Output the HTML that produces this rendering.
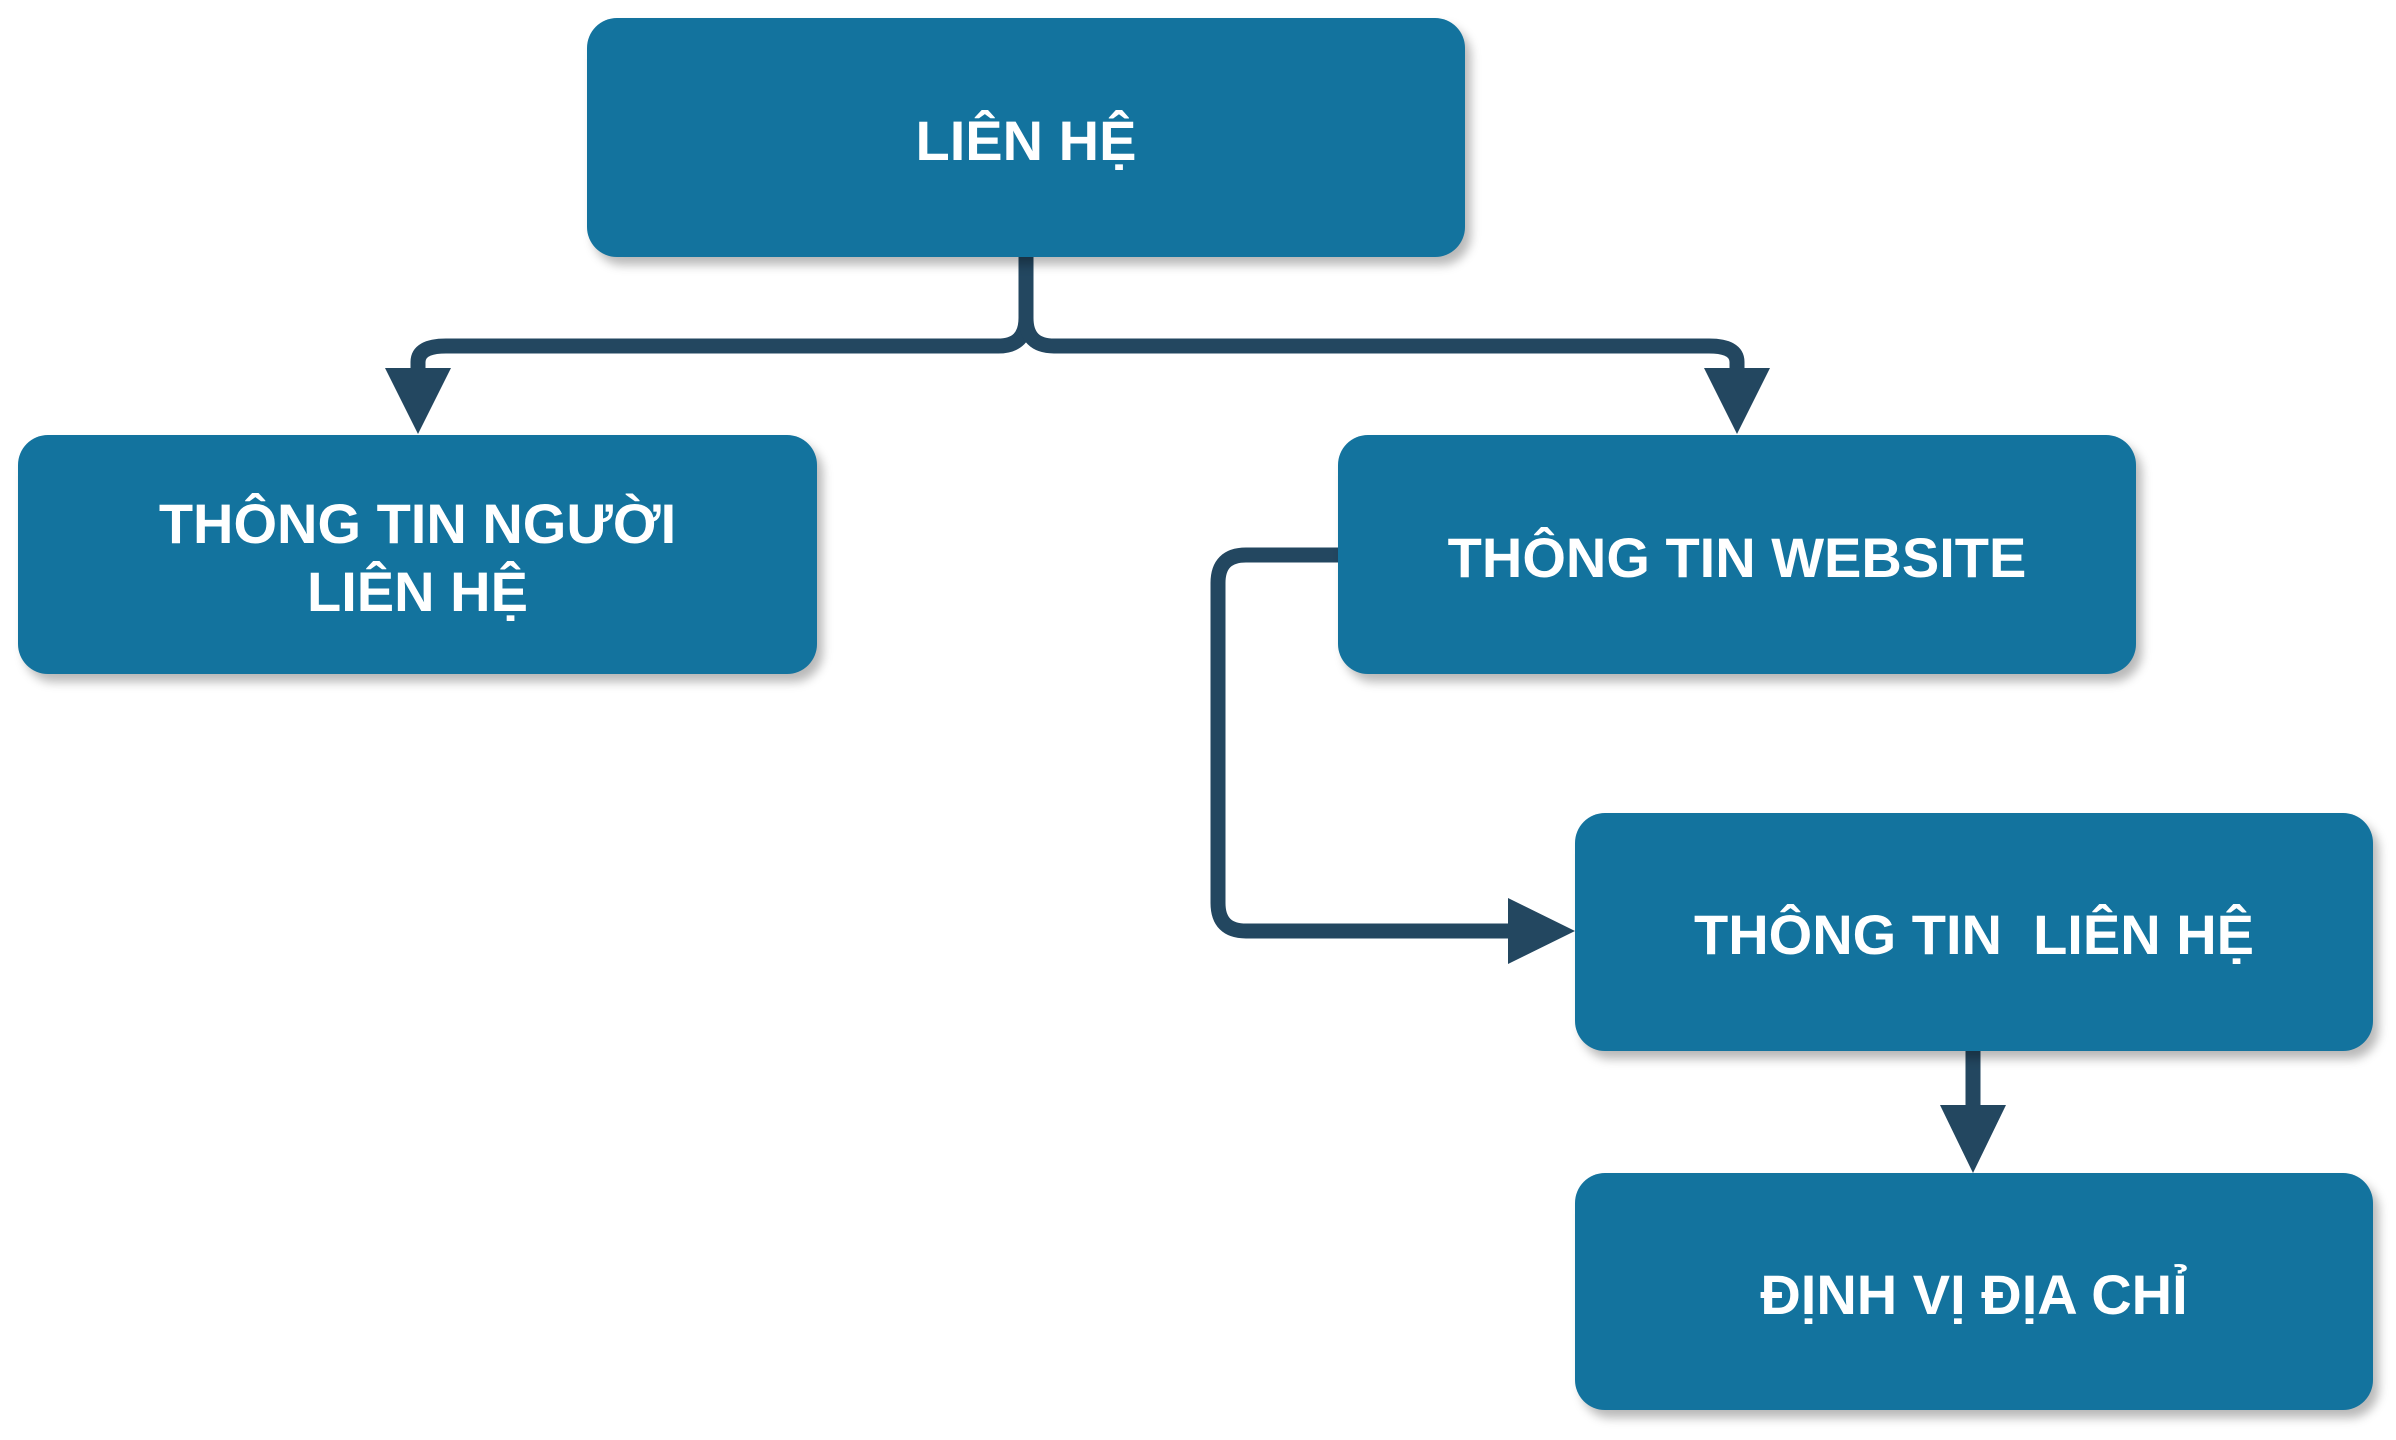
<!DOCTYPE html>
<html><head><meta charset="utf-8"><style>
html,body{margin:0;padding:0;background:#fff;}
body{width:2396px;height:1440px;position:relative;overflow:hidden;font-family:"Liberation Sans",sans-serif;}
.b{position:absolute;background:#13739e;border-radius:30px;box-shadow:6px 8px 10px rgba(0,0,0,0.28);color:#fff;font-weight:bold;font-size:56px;display:flex;align-items:center;justify-content:center;text-align:center;line-height:68px;white-space:pre;}
.b span{position:relative;top:3px;}
svg{position:absolute;left:0;top:0;}
</style></head><body>
<svg width="2396" height="1440">
<g fill="none" stroke="#234760" stroke-width="15">
<path d="M1026 257 V318 Q1026 346 998 346 H446 Q418 346 418 362 V372"/>
<path d="M1026 318 Q1026 346 1054 346 H1709 Q1737 346 1737 362 V372"/>
<path d="M1340 555 H1246 Q1218 555 1218 583 V903 Q1218 931 1246 931 H1512"/>
<path d="M1973 1051 V1108"/>
</g>
<g fill="#234760">
<polygon points="385,368 451,368 418,434"/>
<polygon points="1704,368 1770,368 1737,434"/>
<polygon points="1508,898 1508,964 1575,931"/>
<polygon points="1940,1105 2006,1105 1973,1173"/>
</g>
</svg>
<div class="b" style="left:587px;top:18px;width:878px;height:239px;"><span>LIÊN HỆ</span></div>
<div class="b" style="left:18px;top:435px;width:799px;height:239px;"><span>THÔNG TIN NGƯỜI
LIÊN HỆ</span></div>
<div class="b" style="left:1338px;top:435px;width:798px;height:239px;"><span>THÔNG TIN WEBSITE</span></div>
<div class="b" style="left:1575px;top:813px;width:798px;height:238px;"><span>THÔNG TIN  LIÊN HỆ</span></div>
<div class="b" style="left:1575px;top:1173px;width:798px;height:237px;"><span>ĐỊNH VỊ ĐỊA CHỈ</span></div>
</body></html>
